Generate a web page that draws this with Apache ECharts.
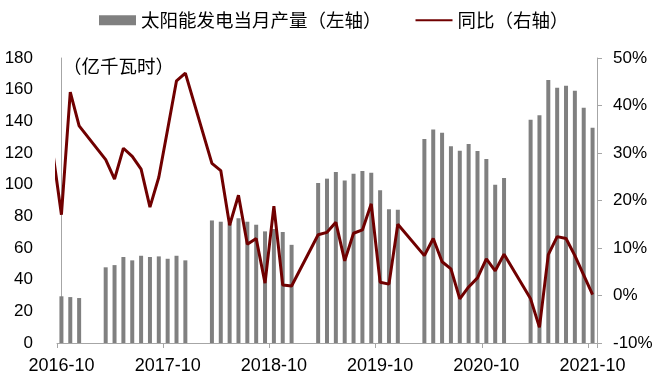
<!DOCTYPE html>
<html>
<head>
<meta charset="utf-8">
<script src="https://cdn.jsdelivr.net/npm/echarts@6/dist/echarts.min.js"></script>
<style>
html,body{margin:0;padding:0;background:#fff;}
#chart{width:668px;height:384px;}
</style>
</head>
<body>
<div id="chart"></div>
<script>
// Months on the category axis (2016-10 .. 2021-10)
var months = [
  '2016-10','2016-11','2016-12',
  '2017-01','2017-02','2017-03','2017-04','2017-05','2017-06','2017-07','2017-08','2017-09','2017-10','2017-11','2017-12',
  '2018-01','2018-02','2018-03','2018-04','2018-05','2018-06','2018-07','2018-08','2018-09','2018-10','2018-11','2018-12',
  '2019-01','2019-02','2019-03','2019-04','2019-05','2019-06','2019-07','2019-08','2019-09','2019-10','2019-11','2019-12',
  '2020-01','2020-02','2020-03','2020-04','2020-05','2020-06','2020-07','2020-08','2020-09','2020-10','2020-11','2020-12',
  '2021-01','2021-02','2021-03','2021-04','2021-05','2021-06','2021-07','2021-08','2021-09','2021-10'
];

// Monthly solar power output (100 million kWh), left axis
var output = [
  29.5, 29.0, 28.4,
  null, null, 47.8, 49.2, 54.3, 52.2, 55.1, 54.3, 54.7, 53.2, 55.1, 52.2,
  null, null, 77.4, 76.6, 75.5, 78.8, 76.6, 74.7, 70.5, 72.0, 70.1, 62.0,
  null, null, 101.0, 103.8, 108.0, 102.7, 106.9, 108.6, 107.6, 96.4, 84.4, 84.2,
  null, null, 128.8, 134.9, 132.8, 124.2, 121.5, 125.7, 121.3, 116.2, 100.0, 104.2,
  null, null, 141.0, 143.8, 166.1, 161.2, 162.5, 159.3, 148.6, 136.0
];

// Year-over-year growth (%), right axis
var yoyBefore = 30.5; // 2016-09, only its segment into the plot is visible
var yoy = [
  17.0, 42.8, 35.7,
  null, null, 28.6, 24.5, 31.0, 29.3, 26.6, 18.6, 24.9, 35.0, 45.2, 46.8,
  null, null, 27.8, 26.3, 14.8, 21.1, 10.8, 12.0, 2.6, 18.8, 2.2, 2.0,
  null, null, 12.8, 13.3, 15.4, 7.3, 13.1, 13.8, 19.3, 2.8, 2.4, 15.0,
  null, null, 8.4, 12.0, 7.1, 5.6, -0.7, 1.8, 3.7, 7.7, 5.2, 8.7,
  null, null, -0.7, -6.7, 8.6, 12.4, 12.0, 8.4, 4.3, 0.2
];

var barName = '太阳能发电当月产量（左轴）';
var lineName = '同比（右轴）';
var unitText = '（亿千瓦时）';

// Build [index, value] pairs for the line on a hidden index axis
var linePts = [[-1, yoyBefore]];
for (var i = 0; i < yoy.length; i++) {
  if (yoy[i] !== null) linePts.push([i, yoy[i]]);
}

var chart = echarts.init(document.getElementById('chart'), null, {renderer: 'canvas'});
var axisGray = '#a6a6a6';
var numFont = 'Liberation Sans, Arial, sans-serif';
var cjkFont = '"Noto Sans CJK SC", sans-serif';

chart.setOption({
  animation: false,
  backgroundColor: '#ffffff',
  title: {
    text: unitText,
    left: 63,
    top: 57,
    padding: 0,
    textStyle: {fontSize: 18.5, fontWeight: 'normal', color: '#000', fontFamily: cjkFont}
  },
  legend: {
    left: 99,
    top: 11,
    padding: 0,
    itemWidth: 37,
    itemHeight: 10,
    itemGap: 33,
    textStyle: {fontSize: 18.5, color: '#000', fontFamily: cjkFont},
    data: [
      {name: barName, icon: 'rect'},
      {name: lineName, itemStyle: {opacity: 0}}
    ]
  },
  grid: {left: 57, right: 71, top: 58, bottom: 41, containLabel: false},
  xAxis: [
    {
      type: 'category',
      data: months,
      boundaryGap: true,
      axisLine: {lineStyle: {color: axisGray, width: 1}},
      axisTick: {show: true, interval: 11, length: 5, lineStyle: {color: axisGray}},
      axisLabel: {interval: 11, margin: 14, fontSize: 18, color: '#000', fontFamily: numFont},
      splitLine: {show: false}
    },
    {
      type: 'value',
      min: -0.5,
      max: 60.5,
      show: false,
      splitLine: {show: false}
    }
  ],
  yAxis: [
    {
      type: 'value',
      min: 0,
      max: 180,
      interval: 20,
      position: 'left',
      axisLine: {show: true, lineStyle: {color: axisGray}},
      axisTick: {show: false},
      axisLabel: {margin: 24, fontSize: 17, color: '#000', fontFamily: numFont},
      splitLine: {show: false}
    },
    {
      type: 'value',
      min: -10,
      max: 50,
      interval: 10,
      position: 'right',
      axisLine: {show: true, lineStyle: {color: axisGray}},
      axisTick: {show: true, inside: false, length: 5, lineStyle: {color: axisGray}},
      axisLabel: {margin: 16, fontSize: 17, color: '#000', fontFamily: numFont, formatter: '{value}%'},
      splitLine: {show: false}
    }
  ],
  series: [
    {
      name: barName,
      type: 'bar',
      xAxisIndex: 0,
      yAxisIndex: 0,
      data: output,
      barWidth: 4,
      itemStyle: {color: '#808080'}
    },
    {
      name: lineName,
      type: 'line',
      xAxisIndex: 1,
      yAxisIndex: 1,
      data: linePts,
      clip: true,
      symbol: 'none',
      showSymbol: false,
      lineStyle: {color: '#700000', width: 3},
      itemStyle: {color: '#700000'}
    }
  ]
});
</script>
</body>
</html>
